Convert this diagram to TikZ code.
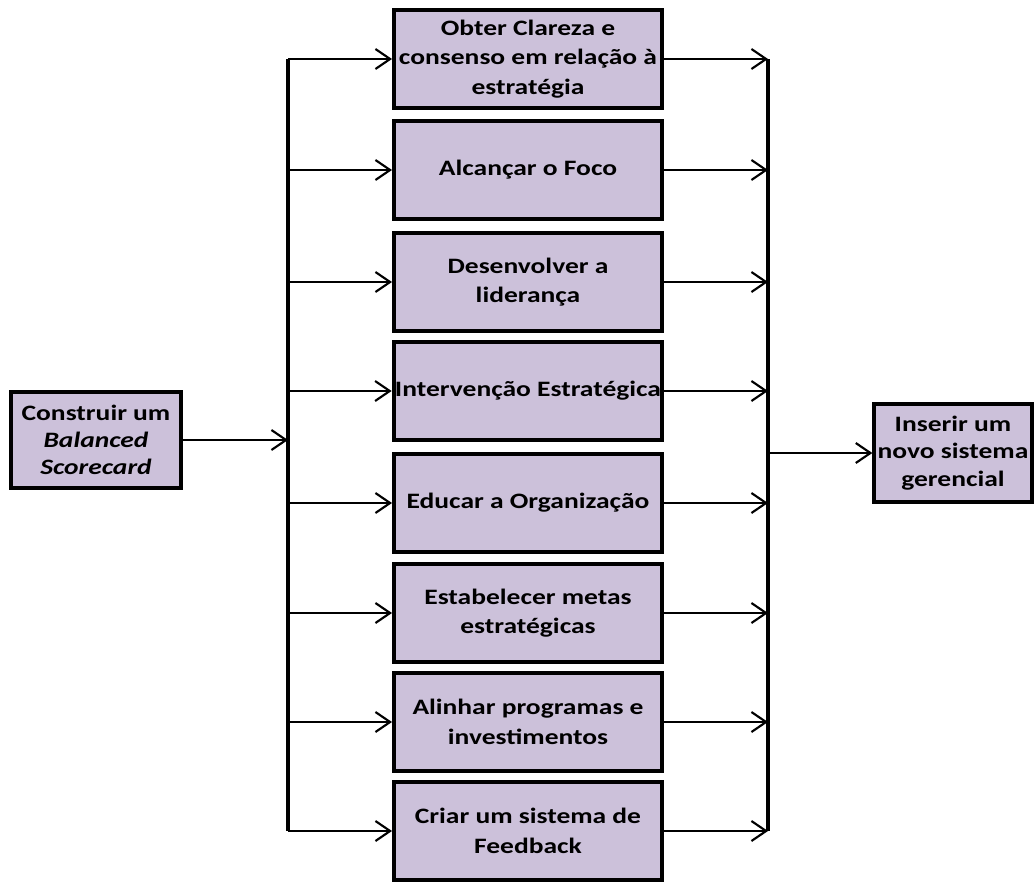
\documentclass[tikz,border=0pt]{standalone}
\usepackage{fontspec}
\setmainfont{Carlito}[FakeStretch=1.25]
\usetikzlibrary{arrows.meta}
\definecolor{lilas}{HTML}{CCC1DA}
\tikzset{
  etapa/.style={draw, line width=3pt, fill=lilas, minimum width=201pt, minimum height=73pt,
    inner sep=1pt, align=center, font=\bfseries\fontsize{16.5}{22}\selectfont},
  seta/.style={-{Straight Barb[length=11pt,width=15pt]}, line width=1.6pt},
  barra/.style={line width=3pt}
}
\begin{document}
\begin{tikzpicture}[x=0.75pt,y=-0.75pt]
  \useasboundingbox (0,0) rectangle (1035,882);
  % boxes
  \node[etapa, minimum width=128pt, minimum height=72pt, font=\bfseries\fontsize{16.5}{20.5}\selectfont] (bsc) at (96,440) {Construir um\\ \textit{Balanced}\\ \textit{Scorecard}};
  \node[etapa] (e1) at (528,59) {Obter Clareza e\\ consenso em relação à\\ estratégia};
  \node[etapa] (e2) at (528,170) {Alcançar o Foco};
  \node[etapa] (e3) at (528,282) {Desenvolver a\\ liderança};
  \node[etapa] (e4) at (528,391) {Intervenção Estratégica};
  \node[etapa] (e5) at (528,503) {Educar a Organização};
  \node[etapa] (e6) at (528,613) {Estabelecer metas\\ estratégicas};
  \node[etapa] (e7) at (528,722) {Alinhar programas e\\ investimentos};
  \node[etapa] (e8) at (528,831) {Criar um sistema de\\ Feedback};
  \node[etapa, minimum width=118pt, minimum height=73pt, font=\bfseries\fontsize{16.5}{20.5}\selectfont] (sg) at (953,453) {Inserir um\\ novo sistema\\ gerencial};
  % bars
  \coordinate (ltop) at (288,59);
  \coordinate (lbot) at (288,831);
  \coordinate (rtop) at (768,59);
  \coordinate (rbot) at (768,831);
  \draw[barra] (ltop) -- (lbot);
  \draw[barra] (rtop) -- (rbot);
  % arrows
  \draw[seta] (bsc.east) -- (bsc.east -| ltop);
  \draw[seta] (e1.west -| ltop) -- (e1.west);
  \draw[seta] (e2.west -| ltop) -- (e2.west);
  \draw[seta] (e3.west -| ltop) -- (e3.west);
  \draw[seta] (e4.west -| ltop) -- (e4.west);
  \draw[seta] (e5.west -| ltop) -- (e5.west);
  \draw[seta] (e6.west -| ltop) -- (e6.west);
  \draw[seta] (e7.west -| ltop) -- (e7.west);
  \draw[seta] (e8.west -| ltop) -- (e8.west);
  \draw[seta] (e1.east) -- (e1.east -| rtop);
  \draw[seta] (e2.east) -- (e2.east -| rtop);
  \draw[seta] (e3.east) -- (e3.east -| rtop);
  \draw[seta] (e4.east) -- (e4.east -| rtop);
  \draw[seta] (e5.east) -- (e5.east -| rtop);
  \draw[seta] (e6.east) -- (e6.east -| rtop);
  \draw[seta] (e7.east) -- (e7.east -| rtop);
  \draw[seta] (e8.east) -- (e8.east -| rtop);
  \draw[seta] (sg.west -| rtop) -- (sg.west);
\end{tikzpicture}
\end{document}
